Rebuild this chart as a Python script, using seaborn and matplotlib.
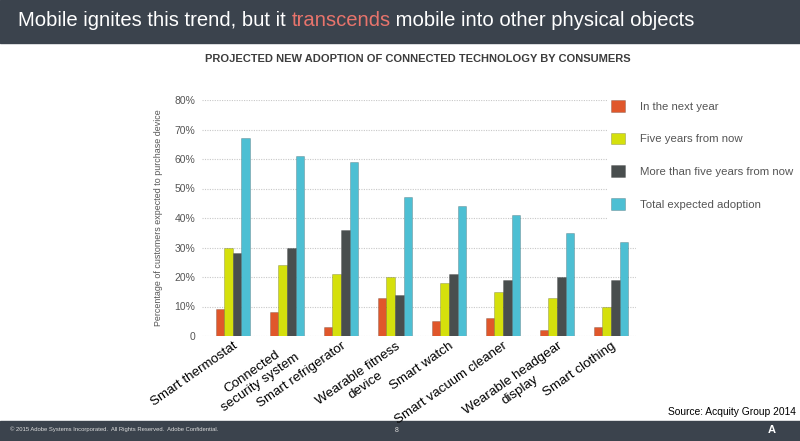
import matplotlib
matplotlib.use("Agg")
import matplotlib.pyplot as plt
import matplotlib.font_manager as fm
from matplotlib.patches import Rectangle
import pandas as pd
import seaborn as sns

# chart data
devices = ["Smart thermostat", "Connected\nsecurity system", "Smart refrigerator",
           "Wearable fitness\ndevice", "Smart watch", "Smart vacuum cleaner",
           "Wearable headgear\ndisplay", "Smart clothing"]
series = ["In the next year", "Five years from now",
          "More than five years from now", "Total expected adoption"]
next_year = [9, 8, 3, 13, 5, 6, 2, 3]
five_years = [30, 24, 21, 20, 18, 15, 13, 10]
more_than_five = [28, 30, 36, 14, 21, 19, 20, 19]
total = [67, 61, 59, 47, 44, 41, 35, 32]
y_ticks = [0, 10, 20, 30, 40, 50, 60, 70, 80]
y_tick_labels = ["0", "10%", "20%", "30%", "40%", "50%", "60%", "70%", "80%"]

colors = ["#e0572b", "#d5e00c", "#494e4e", "#4dbfd3"]

rows = []
for name, vals in zip(series, [next_year, five_years, more_than_five, total]):
    for d, v in zip(devices, vals):
        rows.append({"device": d, "series": name, "value": v})
df = pd.DataFrame(rows)

sns.set_style("white")
installed = {f.name for f in fm.fontManager.ttflist}
narrow = "Liberation Sans Narrow" in installed
plt.rcParams["font.family"] = ["Liberation Sans", "DejaVu Sans"]
cond = ["Liberation Sans Narrow", "Liberation Sans"] if narrow else ["Liberation Sans"]
k = 1.0 if narrow else 0.82

W, H = 800, 441
fig = plt.figure(figsize=(8, 4.41), dpi=100)
ax = fig.add_axes([202 / W, 1 - 336 / H, 434 / W, 236 / H])

sns.barplot(data=df, x="device", y="value", hue="series", palette=colors,
            saturation=1, width=0.64, gap=0, ax=ax, edgecolor=(0, 0, 0, 0.25),
            linewidth=0.5, zorder=3)

ax.set_xlim(-0.57, 7.46)
ax.set_ylim(0, 80)
ax.set_yticks(y_ticks)
ax.set_yticklabels(y_tick_labels, color="#555555", fontsize=7.5)
ax.tick_params(axis="y", length=0, pad=5)
ax.tick_params(axis="x", length=0, pad=3)
ax.yaxis.grid(True, color="#c8c8c8", linestyle=(0, (1, 1.2)), linewidth=0.8, zorder=0)
ax.set_axisbelow(True)
for s in ax.spines.values():
    s.set_visible(False)
ax.set_xlabel("")
ax.set_ylabel("Percentage of customers expected to purchase device",
              color="#555555", fontsize=7.8 * k, family=cond, labelpad=8)
for lbl in ax.get_xticklabels():
    lbl.set_rotation(35)
    lbl.set_ha("right")
    lbl.set_rotation_mode("anchor")
    lbl.set_multialignment("center")
    lbl.set_fontsize(9.6)
    lbl.set_color("black")

# legend on a white panel that hides the right end of the grid
handles, labels = ax.get_legend_handles_labels()
ax.get_legend().remove()
fig.add_artist(Rectangle((608 / W, 1 - 236 / H), 192 / W, 146 / H,
                         transform=fig.transFigure, color="white", zorder=1))
leg = fig.legend(handles, labels, loc="upper left", bbox_to_anchor=(611 / W, 1 - 100 / H),
                 frameon=False, fontsize=8.2, handlelength=1.2, handleheight=1.2,
                 handletextpad=1.35, labelspacing=1.85, borderaxespad=0, borderpad=0)
leg.set_zorder(5)
for t in leg.get_texts():
    t.set_color("#555555")

# header and footer bands
band = "#3b434d"
fig.add_artist(Rectangle((0, 1 - 43 / H), 1, 43 / H, transform=fig.transFigure,
                         color=band, zorder=0))
fig.add_artist(Rectangle((0, 0), 1, 20 / H, transform=fig.transFigure,
                         color=band, zorder=0))

parts = [("Mobile ignites this trend, but it ", "white"),
         ("transcends", "#e8746c"),
         (" mobile into other physical objects", "white")]
renderer = fig.canvas.get_renderer()
x = 18 / W
for txt, c in parts:
    t = fig.text(x, 1 - 26 / H, txt, color=c, fontsize=17.8 * k, family=cond,
                 va="baseline", ha="left")
    bb = t.get_window_extent(renderer)
    x = bb.x1 / fig.bbox.width

fig.text(417.5 / W, 1 - 59 / H, "PROJECTED NEW ADOPTION OF CONNECTED TECHNOLOGY BY CONSUMERS",
         color="#3d3d3d", fontsize=9.8 * k, family=cond, weight="bold",
         ha="center", va="center")
fig.text(796 / W, 1 - 415 / H, "Source: Acquity Group 2014", color="black",
         fontsize=9 * k, family=cond, ha="right", va="baseline")
fig.text(10 / W, 1 - 429 / H,
         "\u00a9 2015 Adobe Systems Incorporated.  All Rights Reserved.  Adobe Confidential.",
         color="#dddddd", fontsize=4.2, ha="left", va="center")
fig.text(397 / W, 1 - 431 / H, "8", color="#dddddd", fontsize=5, ha="center", va="center")
fig.text(772 / W, 1 - 430 / H, "A", color="white", fontsize=8, weight="bold",
         ha="center", va="center")

fig.savefig("out.png", dpi=100)
